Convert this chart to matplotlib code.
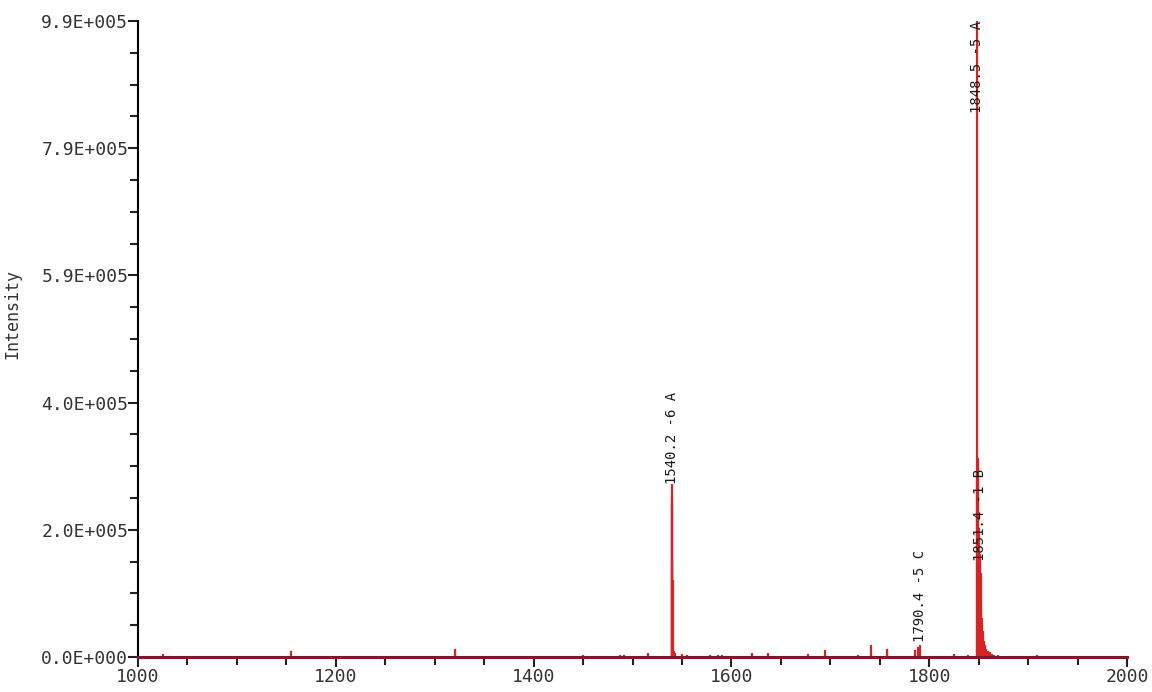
import matplotlib
matplotlib.use("Agg")
import matplotlib.pyplot as plt
from matplotlib.ticker import MultipleLocator, AutoMinorLocator, FixedLocator

# peak list (m/z, intensity)
peak_mz = [1025.0, 1155.0, 1320.5, 1450.0, 1487.0, 1491.5, 1515.5,
           1539.9, 1540.05, 1540.2, 1540.35, 1540.5, 1541.5, 1543.0, 1550.0,
           1555.0, 1578.0, 1586.0, 1590.0, 1621.0, 1637.0, 1677.0, 1695.0,
           1728.0, 1741.0, 1757.0, 1786.0, 1788.5, 1790.4, 1825.0, 1839.0,
           1848.2, 1848.5, 1848.9, 1849.5, 1850.2, 1851.0, 1851.4, 1852.0,
           1852.6, 1853.3, 1854.0, 1855.0, 1856.0, 1857.5, 1859.0, 1861.0,
           1863.0, 1866.0, 1870.0, 1909.0]
peak_int = [5000, 9000, 12500, 2500, 3000, 3000, 5500,
            150000, 250000, 270000, 240000, 120000, 10000, 6000, 4000,
            2500, 3500, 3500, 3500, 5500, 5500, 4500, 11000,
            3500, 19000, 12000, 11000, 15000, 19000, 4500, 3500,
            290000, 990000, 310000, 300000, 200000, 160000, 150000, 130000,
            85000, 60000, 40000, 25000, 18000, 12000, 9000, 7000,
            5000, 3500, 2500, 3000]

labels = [(1540.2, 270000, "1540.2 -6 A", "bottom"),
          (1790.4, 24000, "1790.4 -5 C", "bottom"),
          (1851.4, 150000, "1851.4 -1 B", "bottom"),
          (1848.5, 990000, "1848.5 -5 A", "top")]

ytick_vals = [0, 198000, 396000, 594000, 792000, 990000]
ytick_text = ["0.0E+000", "2.0E+005", "4.0E+005", "5.9E+005", "7.9E+005", "9.9E+005"]

mono = "DejaVu Sans Mono"

fig = plt.figure(figsize=(11.52, 6.92), dpi=100)
ax = fig.add_axes([0.1198, 0.0506, 0.8585, 0.9191])

ax.vlines(peak_mz, 0, peak_int, color="#d42424", lw=1.6)

for x, y, t, va in labels:
    ax.text(x, y, t, rotation=90, ha="center", va=va, fontsize=10,
            family=mono, color="#1a1a1a")

ax.set_xlim(1000, 2000)
ax.set_ylim(0, 990000)
ax.xaxis.set_major_locator(MultipleLocator(200))
ax.xaxis.set_minor_locator(AutoMinorLocator(4))
ax.yaxis.set_major_locator(FixedLocator(ytick_vals))
ax.set_yticklabels(ytick_text)
ax.yaxis.set_minor_locator(AutoMinorLocator(4))

for s in ["top", "right"]:
    ax.spines[s].set_visible(False)
ax.spines["left"].set_linewidth(1.5)
ax.spines["bottom"].set_linewidth(2.2)
ax.spines["bottom"].set_color("#7a1a2a")

ax.tick_params(which="both", direction="out", width=1.5, colors="#222222")
ax.tick_params(which="major", length=7, labelsize=13, labelcolor="#333333")
ax.tick_params(which="minor", length=6)
ax.tick_params(axis="x", which="major", pad=1)
ax.tick_params(axis="y", which="major", pad=0)
for lab in ax.get_xticklabels() + ax.get_yticklabels():
    lab.set_family(mono)

ax.set_ylabel("Intensity", family=mono, fontsize=12, color="#333333")
ax.yaxis.set_label_coords(-0.118, 0.54)

fig.savefig("out.png", dpi=100)
